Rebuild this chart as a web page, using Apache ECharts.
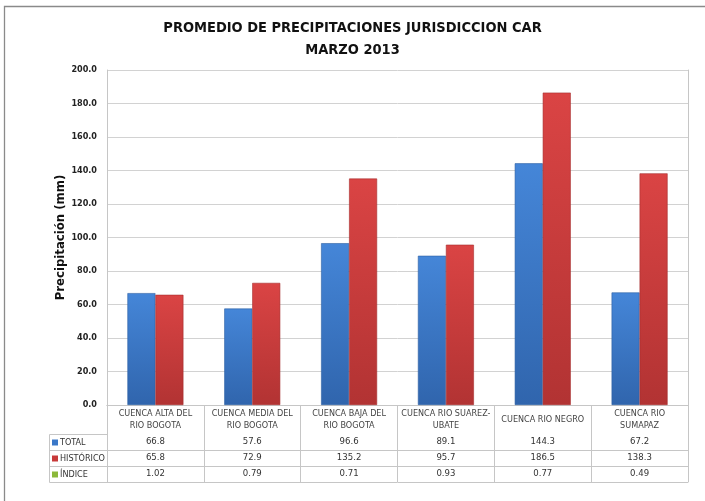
<!DOCTYPE html>
<html>
<head>
<meta charset="utf-8">
<script src="https://cdn.jsdelivr.net/npm/echarts@6/dist/echarts.min.js"></script>
<style>
  html, body { margin: 0; padding: 0; background: #fff; }
  #main { width: 705px; height: 501px; }
</style>
</head>
<body>
<div id="main"></div>
<script>
// data
const categories = [
  "CUENCA ALTA DEL\nRIO BOGOTA",
  "CUENCA MEDIA DEL\nRIO BOGOTA",
  "CUENCA BAJA DEL\nRIO BOGOTA",
  "CUENCA RIO SUAREZ-\nUBATE",
  "CUENCA RIO NEGRO",
  "CUENCA RIO\nSUMAPAZ",
];
const total = [66.8, 57.6, 96.6, 89.1, 144.3, 67.2];
const historico = [65.8, 72.9, 135.2, 95.7, 186.5, 138.3];
const indice = [1.02, 0.79, 0.71, 0.93, 0.77, 0.49];
const rowNames = ["TOTAL", "HISTÓRICO", "ÍNDICE"];
const rowColors = ["#3a78c8", "#c83a3a", "#8cb83a"];

const FONT = "'DejaVu Sans Condensed', 'Liberation Sans', sans-serif";
const LINE = "#c6c6c6";

// layout of plot + table
const G_LEFT = 107, G_RIGHT = 688, G_TOP = 70, G_BOTTOM = 405;
const HEAD_H = 29, ROW_H = 16;
const LEG_LEFT = 49;

const chart = echarts.init(document.getElementById("main"), null, { renderer: "canvas" });

// a table row is a category axis pushed down under the plot
function rowAxis(i, values, fmt) {
  return {
    type: "category",
    data: categories,
    gridIndex: 0,
    position: "bottom",
    offset: HEAD_H + ROW_H * i,
    axisLine: { show: true, lineStyle: { color: LINE, width: 1 } },
    axisTick: { show: false },
    axisLabel: {
      show: !!values,
      interval: 0,
      margin: ROW_H / 2,
      verticalAlign: "middle",
      fontFamily: FONT,
      fontSize: 9.5,
      color: "#333",
      formatter: (v, idx) => values ? fmt(values[idx]) : "",
    },
  };
}

// row headers of the table (legend column)
const rowHeaders = rowNames.map((n, i) => ({
  type: "text",
  silent: true,
  x: LEG_LEFT + 3,
  y: G_BOTTOM + HEAD_H + ROW_H * i + ROW_H / 2 + 0.5,
  style: {
    text: "{sq| }{t|" + n + "}",
    verticalAlign: "middle",
    rich: {
      sq: { width: 6, height: 6, backgroundColor: rowColors[i] },
      t: { fontFamily: FONT, fontSize: 9, fill: "#333", padding: [0, 0, 0, 2] },
    },
  },
}));

const option = {
  backgroundColor: "#fff",
  animation: false,
  title: {
    text: "PROMEDIO DE PRECIPITACIONES JURISDICCION CAR\nMARZO 2013",
    left: "center",
    top: 12,
    textStyle: {
      fontFamily: FONT,
      fontWeight: "bold",
      fontSize: 14.5,
      lineHeight: 22,
      color: "#111",
    },
  },
  grid: {
    left: G_LEFT,
    right: 705 - G_RIGHT,
    top: G_TOP,
    bottom: 501 - G_BOTTOM,
  },
  xAxis: [
    {
      type: "category",
      data: categories,
      axisLine: { show: true, lineStyle: { color: LINE } },
      axisTick: {
        show: true,
        interval: 0,
        length: HEAD_H + ROW_H * 3,
        lineStyle: { color: LINE },
      },
      axisLabel: {
        interval: 0,
        margin: HEAD_H / 2,
        verticalAlign: "middle",
        fontFamily: FONT,
        fontSize: 9,
        lineHeight: 12,
        color: "#444",
      },
    },
    rowAxis(0, total, v => v.toFixed(1)),
    rowAxis(1, historico, v => v.toFixed(1)),
    rowAxis(2, indice, v => v.toFixed(2)),
    rowAxis(3, null, null),
  ],
  yAxis: [
    {
      type: "value",
      min: 0,
      max: 200,
      interval: 20,
      name: "Precipitación (mm)",
      nameLocation: "middle",
      nameGap: 40,
      nameMoveOverlap: false,
      nameTextStyle: {
        fontFamily: FONT,
        fontWeight: "bold",
        fontSize: 13,
        color: "#111",
      },
      axisLine: { show: true, lineStyle: { color: LINE } },
      axisTick: { show: false },
      axisLabel: {
        margin: 10,
        fontFamily: FONT,
        fontWeight: "bold",
        fontSize: 9,
        color: "#222",
        formatter: v => v.toFixed(1),
      },
      splitLine: { lineStyle: { color: "#d2d2d2", width: 1 } },
    },
    {
      type: "value",
      min: 0,
      max: 200,
      position: "right",
      axisLine: { show: true, lineStyle: { color: LINE } },
      axisTick: { show: false },
      axisLabel: { show: false },
      splitLine: { show: false },
    },
  ],
  series: [
    {
      name: "TOTAL",
      type: "bar",
      data: total,
      barWidth: 28,
      barGap: "0%",
      itemStyle: {
        color: new echarts.graphic.LinearGradient(0, 0, 0, 1, [
          { offset: 0, color: "#4586d8" },
          { offset: 1, color: "#3065ad" },
        ]),
        borderColor: "#2d5fa3",
        borderWidth: 0.6,
      },
    },
    {
      name: "HISTÓRICO",
      type: "bar",
      data: historico,
      barWidth: 28,
      barGap: "0%",
      itemStyle: {
        color: new echarts.graphic.LinearGradient(0, 0, 0, 1, [
          { offset: 0, color: "#da4444" },
          { offset: 1, color: "#b23333" },
        ]),
        borderColor: "#a62e2e",
        borderWidth: 0.6,
      },
    },
  ],
  graphic: [
    // legend column frame of the data table
    {
      type: "polyline",
      silent: true,
      shape: {
        points: [
          [G_LEFT, G_BOTTOM + HEAD_H + 0.5],
          [LEG_LEFT + 0.5, G_BOTTOM + HEAD_H + 0.5],
          [LEG_LEFT + 0.5, G_BOTTOM + HEAD_H + ROW_H * 3 + 0.5],
          [G_LEFT, G_BOTTOM + HEAD_H + ROW_H * 3 + 0.5],
        ],
      },
      style: { stroke: LINE, fill: null, lineWidth: 1 },
    },
    {
      type: "line",
      silent: true,
      shape: { x1: LEG_LEFT, y1: G_BOTTOM + HEAD_H + ROW_H + 0.5, x2: G_LEFT, y2: G_BOTTOM + HEAD_H + ROW_H + 0.5 },
      style: { stroke: LINE, lineWidth: 1 },
    },
    {
      type: "line",
      silent: true,
      shape: { x1: LEG_LEFT, y1: G_BOTTOM + HEAD_H + ROW_H * 2 + 0.5, x2: G_LEFT, y2: G_BOTTOM + HEAD_H + ROW_H * 2 + 0.5 },
      style: { stroke: LINE, lineWidth: 1 },
    },
    ...rowHeaders,
    // outer chart border
    {
      type: "rect",
      silent: true,
      shape: { x: 4.5, y: 6.5, width: 720, height: 520 },
      style: { stroke: "#8a8a8a", fill: null, lineWidth: 1.3 },
    },
  ],
};

chart.setOption(option);
</script>
</body>
</html>
